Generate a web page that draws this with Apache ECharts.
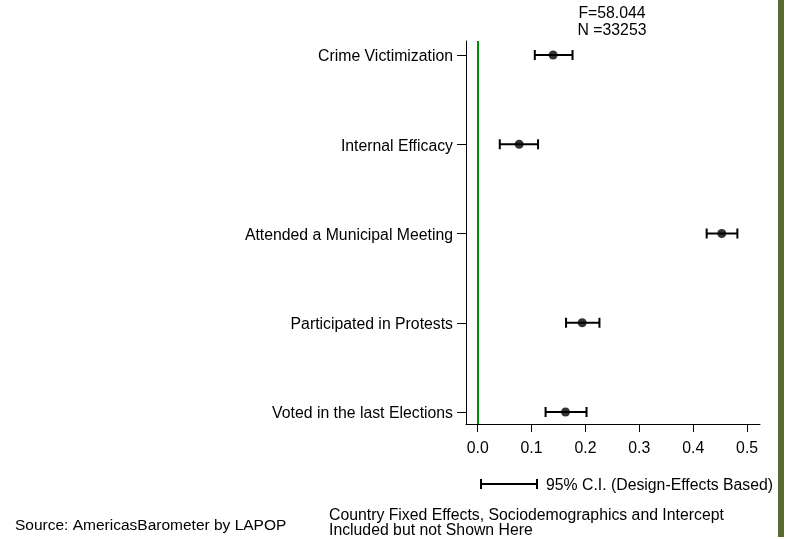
<!DOCTYPE html>
<html>
<head>
<meta charset="utf-8">
<script src="https://cdn.jsdelivr.net/npm/echarts@6/dist/echarts.min.js"></script>
<style>
  html, body { margin: 0; padding: 0; background: #fff; }
  #chart { width: 789px; height: 539px; }
</style>
</head>
<body>
<div id="chart"></div>
<script>
// Regression coefficients with 95% confidence intervals (bottom to top)
const categories = [
  'Voted in the last Elections',
  'Participated in Protests',
  'Attended a Municipal Meeting',
  'Internal Efficacy',
  'Crime Victimization'
];
const coefficients = [0.163, 0.194, 0.453, 0.077, 0.140];
const lowerBounds  = [0.126, 0.164, 0.425, 0.041, 0.106];
const upperBounds  = [0.202, 0.226, 0.482, 0.112, 0.176];
const xTicks = [0, 0.1, 0.2, 0.3, 0.4, 0.5];
const yPositions = [1, 2, 3, 4, 5];

const FONT = '"Liberation Sans", Arial, sans-serif';
const FS = 15.8;

const chart = echarts.init(document.getElementById('chart'));

const intervalData = yPositions.map((y, i) => [lowerBounds[i], upperBounds[i], y]);
const pointData = yPositions.map((y, i) => [coefficients[i], y]);

chart.setOption({
  animation: false,
  backgroundColor: '#ffffff',
  grid: { left: 466, right: 29, top: 41, bottom: 115, containLabel: false },
  xAxis: {
    type: 'value',
    min: -0.0217,
    max: 0.524,
    splitLine: { show: false },
    axisLine: { show: true, onZero: false, lineStyle: { color: '#000', width: 1 } },
    axisTick: { show: true, length: 8, customValues: xTicks, lineStyle: { color: '#000' } },
    axisLabel: {
      customValues: xTicks,
      formatter: v => v.toFixed(1),
      color: '#000', fontFamily: FONT, fontSize: FS, margin: 17
    }
  },
  yAxis: {
    type: 'value',
    min: 0.8655,
    max: 5.157,
    splitLine: { show: false },
    axisLine: { show: true, onZero: false, lineStyle: { color: '#000', width: 1 } },
    axisTick: { show: true, length: 9, customValues: yPositions, lineStyle: { color: '#000' } },
    axisLabel: {
      customValues: yPositions,
      formatter: v => '{c|' + (categories[Math.round(v) - 1] || '') + '}',
      margin: 13,
      rich: {
        c: { color: '#000', fontFamily: FONT, fontSize: FS, padding: [4, 0, 0, 0] }
      }
    }
  },
  series: [
    {
      // reference line at zero
      type: 'line',
      data: [],
      markLine: {
        silent: true,
        symbol: 'none',
        label: { show: false },
        lineStyle: { color: '#008a00', width: 2, type: 'solid' },
        data: [{ xAxis: 0 }]
      }
    },
    {
      // confidence interval whiskers
      type: 'custom',
      data: intervalData,
      encode: { x: [0, 1], y: 2 },
      renderItem: function (params, api) {
        const lo = api.coord([api.value(0), api.value(2)]);
        const hi = api.coord([api.value(1), api.value(2)]);
        const h = 5;
        const style = { stroke: '#000', lineWidth: 2 };
        return {
          type: 'group',
          children: [
            { type: 'line', shape: { x1: lo[0], y1: lo[1], x2: hi[0], y2: hi[1] }, style },
            { type: 'line', shape: { x1: lo[0], y1: lo[1] - h, x2: lo[0], y2: lo[1] + h }, style },
            { type: 'line', shape: { x1: hi[0], y1: hi[1] - h, x2: hi[0], y2: hi[1] + h }, style }
          ]
        };
      }
    },
    {
      type: 'scatter',
      data: pointData,
      symbol: 'circle',
      symbolSize: 9,
      itemStyle: { color: '#000' },
      z: 5
    }
  ],
  graphic: [
    {
      type: 'text', x: 612, y: 5.5,
      style: { text: 'F=58.044\nN =33253', textAlign: 'center', textVerticalAlign: 'top', fill: '#000',
               font: FS + 'px ' + FONT, lineHeight: 17 }
    },
    // CI legend key
    { type: 'line', shape: { x1: 481, y1: 484, x2: 537, y2: 484 }, style: { stroke: '#000', lineWidth: 2 } },
    { type: 'line', shape: { x1: 481, y1: 479, x2: 481, y2: 489 }, style: { stroke: '#000', lineWidth: 2 } },
    { type: 'line', shape: { x1: 537, y1: 479, x2: 537, y2: 489 }, style: { stroke: '#000', lineWidth: 2 } },
    {
      type: 'text', x: 546, y: 486,
      style: { text: '95% C.I. (Design-Effects Based)', fill: '#000', font: FS + 'px ' + FONT, textVerticalAlign: 'middle' }
    },
    {
      type: 'text', x: 15, y: 526,
      style: { text: 'Source: AmericasBarometer by LAPOP', fill: '#000', font: '15.5px ' + FONT, textVerticalAlign: 'middle' }
    },
    {
      type: 'text', x: 329, y: 508,
      style: { text: 'Country Fixed Effects, Sociodemographics and Intercept\nIncluded but not Shown Here',
               fill: '#000', font: FS + 'px ' + FONT, lineHeight: 15 }
    },
    // olive border strip on the right edge
    { type: 'rect', shape: { x: 778, y: 0, width: 6, height: 537 }, style: { fill: '#566b2f' } }
  ]
});
</script>
</body>
</html>
